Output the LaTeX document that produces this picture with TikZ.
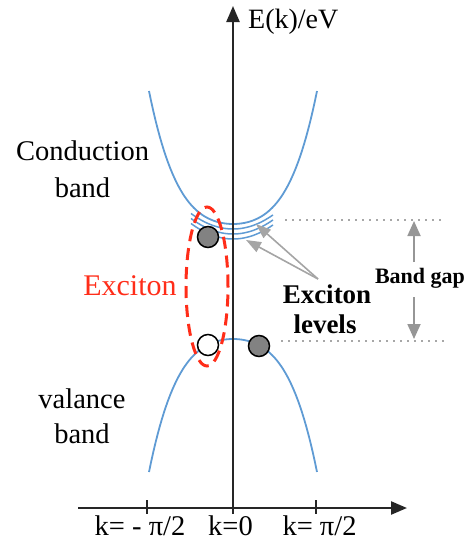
\documentclass[tikz,border=0pt]{standalone}
\usepackage{fontspec}
\setmainfont{Liberation Serif}
\usetikzlibrary{arrows.meta}
\definecolor{bandblue}{RGB}{95,155,212}
\definecolor{excred}{RGB}{255,45,25}
\definecolor{arrgray}{RGB}{165,165,165}
\definecolor{gapgray}{RGB}{150,150,150}
\definecolor{carrier}{RGB}{130,130,130}
\begin{document}
\begin{tikzpicture}[x=1pt,y=-1pt,
  band/.style={bandblue, line width=1.8pt},
  level/.style={bandblue, line width=1.5pt},
  axisline/.style={line width=2.4pt, black!85, -{Triangle[length=16pt,width=13pt]}},
  tickline/.style={line width=1.3pt, black!85},
  lbl/.style={inner sep=0pt, anchor=base, font=\fontsize{28.5}{34}\selectfont},
  boldlbl/.style={inner sep=0pt, anchor=base, font=\fontsize{27}{32}\selectfont\bfseries},
  gaplbl/.style={inner sep=0pt, anchor=base, font=\fontsize{22}{26}\selectfont\bfseries},
  redlbl/.style={inner sep=0pt, anchor=base, text=excred, font=\fontsize{30}{36}\selectfont},
  carrierdot/.style={circle, draw=black, line width=1.5pt, minimum size=21pt, inner sep=0pt, fill=carrier},
  holedot/.style={circle, draw=black, line width=1.5pt, minimum size=21pt, inner sep=0pt, fill=white},
  levelarrow/.style={arrgray, line width=1.6pt, -{Triangle[length=15pt,width=11pt]}},
  gaparrow/.style={gapgray, line width=1.8pt, -{Triangle[length=15pt,width=13pt]}},
  dotline/.style={line width=1.6pt, black!70, line cap=round, dash pattern=on 0pt off 7pt},
  excdash/.style={excred, line width=3pt, dash pattern=on 12pt off 7pt}
]
\useasboundingbox (0,0) rectangle (472,541);

% bands
\draw[band] plot[domain=-1:1, samples=80, variable=\u]
  ({233+84*\u}, {224-(58.1*\u*\u+74.9*\u*\u*\u*\u)});
\draw[band] plot[domain=-1:1, samples=80, variable=\u]
  ({233+84*\u}, {339+(58.1*\u*\u+74.9*\u*\u*\u*\u)});
% exciton levels
\foreach \yy in {229,234,239}
  \draw[level] plot[domain=-42:40, samples=40, variable=\t] ({233+\t},{\yy-0.0088*\t*\t});

% carriers
\node[carrierdot] (elec) at (208,237) {};
\node[holedot] (hole) at (208,345) {};
\node[carrierdot] (velec) at (259,346) {};

% exciton ellipse
\draw[excdash] (207,286.5) ellipse [x radius=21pt, y radius=79.5pt];

% axes
\coordinate (ybot) at (233,514);
\coordinate (ytop) at (233,6);
\coordinate (xleft) at (78,508);
\coordinate (xright) at (407,508);
\draw[axisline] (ybot) -- (ytop);
\draw[axisline] (xleft) -- (xright);
\coordinate (t1a) at (147,500); \coordinate (t1b) at (147,514);
\coordinate (t3a) at (316,500); \coordinate (t3b) at (316,514);
\draw[tickline] (t1a) -- (t1b);
\draw[tickline] (t3a) -- (t3b);

% dotted gap lines
\coordinate (d1a) at (286,220); \coordinate (d1b) at (446,220);
\coordinate (d2a) at (282,341); \coordinate (d2b) at (446,341);
\draw[dotline] (d1a) -- (d1b);
\draw[dotline] (d2a) -- (d2b);

% band gap arrows
\coordinate (g1) at (414,262); \coordinate (g1t) at (414,221);
\coordinate (g2) at (414,297); \coordinate (g2t) at (414,339);
\draw[gaparrow] (g1) -- (g1t);
\draw[gaparrow] (g2) -- (g2t);

% exciton level arrows
\coordinate (lv) at (318,279);
\coordinate (lt1) at (256,224);
\coordinate (lt2) at (246,240);
\draw[levelarrow] (lv) -- (lt1);
\draw[levelarrow] (lv) -- (lt2);

% texts
\node[lbl] (cb1) at (82.5,160) {Conduction};
\node[lbl] (cb2) at (82.5,197) {band};
\node[lbl] (vb1) at (82,408) {valance};
\node[lbl] (vb2) at (82,443) {band};
\node[redlbl] (exc) at (130,295) {Exciton};
\node[boldlbl] (el1) at (327,303) {Exciton};
\node[boldlbl] (el2) at (325,333) {levels};
\node[gaplbl] (bg) at (420,283) {Band gap};
\node[lbl, anchor=base west, font=\fontsize{28}{32}\selectfont] (ek) at (248,28) {E(k)/eV};
\node[lbl] (k1) at (140,535) {k= - π/2};
\node[lbl] (k0) at (230.5,535) {k=0};
\node[lbl] (k2) at (319.5,535) {k= π/2};
\end{tikzpicture}
\end{document}
